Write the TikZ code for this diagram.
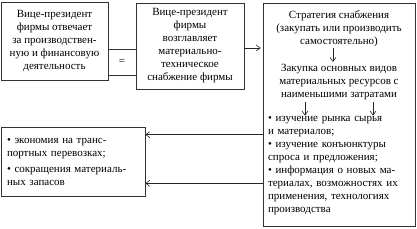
\documentclass[tikz,border=0pt]{standalone}
\usepackage{fontspec}
\setmainfont{Liberation Serif}
\usetikzlibrary{positioning, arrows.meta, fit, backgrounds}

\begin{document}
\begin{tikzpicture}[
  x=1pt, y=-1pt,
  block/.style={
    draw=black!80, fill=white, line width=0.7pt,
    inner sep=0pt, align=center,
    font=\fontsize{11}{13}\selectfont
  },
  txt/.style={
    inner sep=0pt, align=center,
    font=\fontsize{11}{13}\selectfont
  },
  arrow/.style={-{Straight Barb[length=4pt, width=6pt]}, line width=0.6pt, black!85}
]
\useasboundingbox (0,0) rectangle (417,229);

% ---- Vice-presidents ----
\node[block, minimum width=107pt, minimum height=78pt] (vpprod) at (54.5, 41) {
  Вице-президент\\
  фирмы отвечает\\
  за производствен-\\
  ную и финансовую\\
  деятельность
};

\node[block, minimum width=28pt, minimum height=26pt] (eq) at (122, 62) {=};

\node[block, minimum width=108pt, minimum height=86pt] (vpsup) at (190, 46) {
  Вице-президент\\
  фирмы\\
  возглавляет\\
  материально-\\
  техническое\\
  снабжение фирмы
};

% ---- Strategy ----
\node[block, minimum width=152pt, minimum height=223pt] (strategy) at (339, 115) {};

\node[txt] (choice) at (339, 29) {
  Стратегия снабжения\\
  (закупать или производить\\
  самостоятельно)
};

\node[txt] (purchase) at (339, 82) {
  Закупка основных видов\\
  материальных ресурсов с\\
  наименьшими затратами
};

\node[txt, align=left, text width=146pt] (study) at (341, 166) {
  • изучение рынка сырья\\
  и материалов;\\
  • изучение конъюнктуры\\
  спроса и предложения;\\
  • информация о новых ма-\\
  териалах, возможностях их\\
  применения, технологиях\\
  производства
};

% ---- Results ----
\node[block, align=left, text width=132pt, minimum width=144pt, minimum height=69pt] (saving) at (73, 161.5) {
  • экономия на транс-\\
  портных перевозках;\\[3pt]
  • сокращения материаль-\\
  ных запасов
};

\coordinate (intop) at ([yshift=-8pt]saving.north east);
\coordinate (inbot) at ([yshift=13pt]saving.south east);

% Flèches
\draw[arrow, shorten >=2pt] ([yshift=-2pt]vpsup.east) -- ([yshift=-2pt]vpsup.east -| strategy.west);

\draw[arrow] ([xshift=-6pt, yshift=-1pt]choice.south) -- ([xshift=-6pt, yshift=2pt]purchase.north);
\draw[arrow] ([xshift=-34pt, yshift=-2pt]purchase.south) -- ([xshift=-34pt, yshift=1pt]purchase.south |- study.north);
\draw[arrow] ([xshift=34pt, yshift=-2pt]purchase.south) -- ([xshift=34pt, yshift=1pt]purchase.south |- study.north);

\draw[arrow] (strategy.west |- intop) -- (intop);
\draw[arrow] (strategy.west |- inbot) -- (inbot);

\end{tikzpicture}
\end{document}
